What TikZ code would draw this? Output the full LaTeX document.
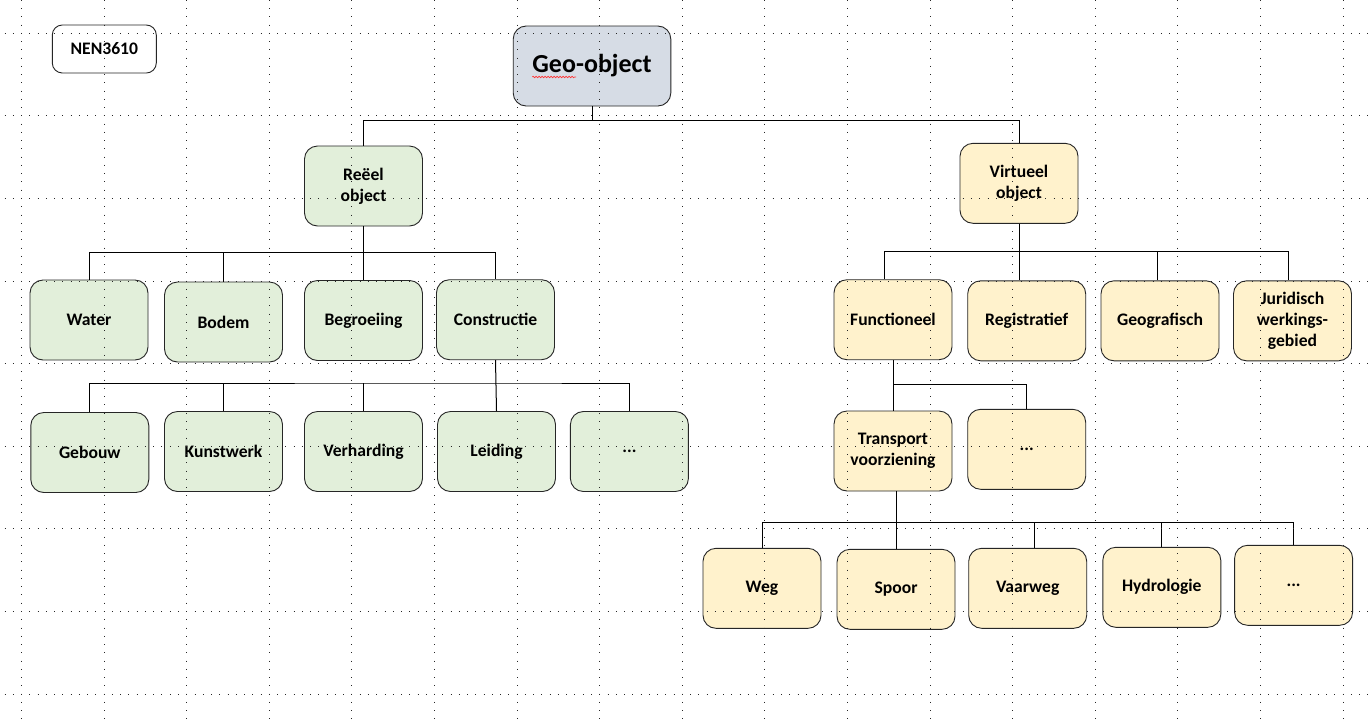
\documentclass[tikz,border=0pt]{standalone}
\usepackage{fontspec}
\setmainfont{Carlito}
\usetikzlibrary{calc,decorations.pathmorphing}
\definecolor{gfill}{HTML}{E2EFDA}
\definecolor{yfill}{HTML}{FFF2CC}
\definecolor{bfill}{HTML}{D6DCE5}
\tikzset{
  box/.style={draw=black!85, line width=0.9pt, rounded corners=13pt, minimum width=118pt, minimum height=80pt, inner sep=0pt, align=center, font=\fontsize{17.6}{21}\selectfont\bfseries},
  gbox/.style={box, fill=gfill},
  ybox/.style={box, fill=yfill},
  conn/.style={line width=1pt, black},
  gridln/.style={line width=1pt, dash pattern=on 1pt off 7.26pt, black!85}
}
\begin{document}
\begin{tikzpicture}[x=1pt,y=-1pt]
\useasboundingbox (0,0) rectangle (1370,721);
\fill[white] (0,0) rectangle (1370,721);

% top nodes
\node[box, fill=white, minimum width=104pt, minimum height=48pt, rounded corners=10pt] (nen) at (104.3,49) {NEN3610};
\node[box, fill=bfill, minimum width=157.6pt, minimum height=80pt, font=\fontsize{26}{30}\selectfont\bfseries] (geo) at (592,66) {Geo-object};
\draw[red!80, line width=0.6pt, decorate, decoration={snake, amplitude=0.8pt, segment length=3pt}] ($(geo.center)+(-59.8,11)$) -- ($(geo.center)+(-16,11)$);

\node[gbox] (reel) at (363.5,186) {Reëel\\object};
\node[ybox] (virt) at (1019,183.3) {Virtueel\\object};

% reeel children
\node[gbox] (water) at (89,320) {Water};
\node[gbox] (bodem) at (223.5,322) {Bodem};
\node[gbox] (begr) at (363.5,320.5) {Begroeiing};
\node[gbox] (constr) at (495.5,319.7) {Constructie};

\node[gbox] (gebouw) at (89.8,452.5) {Gebouw};
\node[gbox] (kunst) at (223.5,451.5) {Kunstwerk};
\node[gbox] (verh) at (363.5,451.5) {Verharding};
\node[gbox] (leiding) at (496.5,451.5) {Leiding};
\node[gbox] (dotsa) at (629.4,451.5) {...};

% virtueel children
\node[ybox] (func) at (893,319.7) {Functioneel};
\node[ybox] (reg) at (1026.7,320.8) {Registratief};
\node[ybox] (geogr) at (1160,320.8) {Geografisch};
\node[ybox] (jur) at (1292.5,320.8) {Juridisch\\werkings-\\gebied};

\node[ybox] (trans) at (893,451) {Transport\\voorziening};
\node[ybox] (dotsb) at (1026.7,449.3) {...};

\node[ybox] (weg) at (762,588.3) {Weg};
\node[ybox] (spoor) at (896,589.3) {Spoor};
\node[ybox] (vaar) at (1027.7,588.3) {Vaarweg};
\node[ybox] (hydro) at (1161.8,587.3) {Hydrologie};
\node[ybox] (dotsc) at (1293.6,585.3) {...};

% connectors
\coordinate (bgeo) at (592,120.3);
\draw[conn] (geo.south) -- (bgeo);
\draw[conn] (reel.north) |- (bgeo) -| (virt.north);

\coordinate (breel) at (363.5,252.7);
\draw[conn] (reel.south) -- (breel);
\draw[conn] (water.north) |- (breel) -| (constr.north);
\draw[conn] (bodem.north) -- (bodem.north |- breel);
\draw[conn] (begr.north) -- (breel);

\coordinate (bcon) at (495.5,383);
\draw[conn] (constr.south) -- (leiding.north);
\draw[conn] (gebouw.north) |- (bcon) -| (dotsa.north);
\draw[conn] (kunst.north) -- (kunst.north |- bcon);
\draw[conn] (verh.north) -- (verh.north |- bcon);

\coordinate (bvirt) at (1019,251.7);
\draw[conn] (virt.south) -- (virt.south |- reg.north);
\draw[conn] ([xshift=-9pt]func.north) |- (bvirt) -| ([xshift=-3.7pt]jur.north);
\draw[conn] ([xshift=-3pt]geogr.north) -- ([xshift=-3pt]geogr.north |- bvirt);

\coordinate (bfunc) at (893.9,384.6);
\draw[conn] (func.south) -- (trans.north);
\draw[conn] (bfunc) -| (dotsb.north);

\coordinate (btr) at (896,522.3);
\draw[conn] ([xshift=3pt]trans.south) -- (spoor.north);
\draw[conn] (weg.north) |- (btr) -| (dotsc.north);
\draw[conn] ([xshift=7pt]vaar.north) -- ([xshift=7pt]vaar.north |- btr);
\draw[conn] (hydro.north) -- (hydro.north |- btr);

% dotted grid on top
\foreach \i in {0,...,16} \draw[gridln] ({21.5+82.6*\i},-0.25) -- ++(0,722);
\foreach \j in {0,...,8} \draw[gridln] (4.55,{33.3+82.6*\j}) -- ++(1366,0);
\end{tikzpicture}
\end{document}
